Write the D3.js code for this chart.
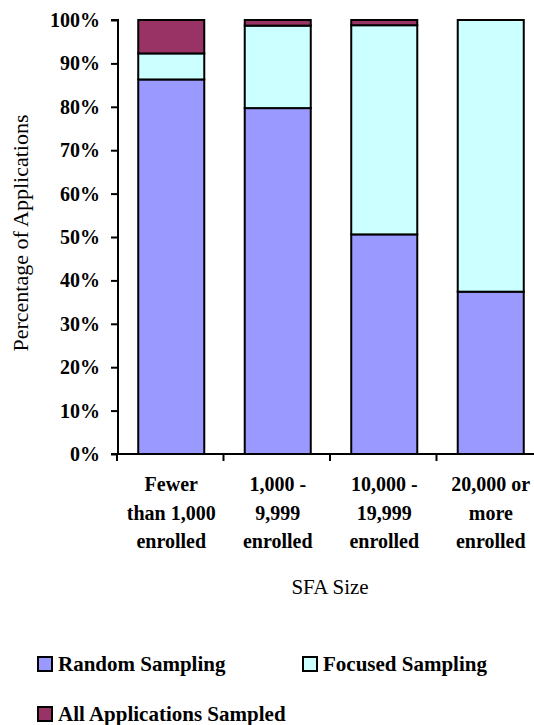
<!DOCTYPE html>
<html>
<head>
<meta charset="utf-8">
<script src="https://cdn.jsdelivr.net/npm/d3@7"></script>
<style>
  html, body { margin: 0; padding: 0; background: #fff; }
  svg { display: block; }
  svg text { font-family: 'Liberation Serif'; }
</style>
</head>
<body>
<svg id="chart" width="534" height="725" font-family="Liberation Serif"></svg>
<script>
// Share of applications by sampling method, per SFA size group
const categories = [
  ["Fewer", "than 1,000", "enrolled"],
  ["1,000 -", "9,999", "enrolled"],
  ["10,000 -", "19,999", "enrolled"],
  ["20,000 or", "more", "enrolled"]
];
const seriesNames = ["Random Sampling", "Focused Sampling", "All Applications Sampled"];
const randomSampling  = [86.3, 79.7, 50.6, 37.4];
const focusedSampling = [6.0, 19.0, 48.2, 62.6];
const allSampled      = [7.7, 1.3, 1.2, 0.0];
const yTicks = [0, 10, 20, 30, 40, 50, 60, 70, 80, 90, 100];
const colors = ["#9999FF", "#CCFFFF", "#993366"];

const svg = d3.select("#chart");
const plotLeft = 118, plotRight = 544, plotTop = 20, plotBottom = 454;

const rows = categories.map((c, i) => ({
  key: i,
  r: randomSampling[i],
  f: focusedSampling[i],
  a: allSampled[i]
}));
const stack = d3.stack().keys(["r", "f", "a"])(rows);

const x = d3.scaleBand()
  .domain(rows.map(d => d.key))
  .range([plotLeft, plotRight])
  .paddingInner(0.38)
  .paddingOuter(0.19);
const y = d3.scaleLinear().domain([0, 100]).range([plotBottom, plotTop]);

// stacked bars
svg.append("g")
  .selectAll("g")
  .data(stack)
  .join("g")
  .attr("fill", (d, i) => colors[i])
  .selectAll("rect")
  .data(d => d.filter(p => p[1] - p[0] > 0))
  .join("rect")
  .attr("x", d => x(d.data.key))
  .attr("width", x.bandwidth())
  .attr("y", d => y(d[1]))
  .attr("height", d => y(d[0]) - y(d[1]))
  .attr("stroke", "#000")
  .attr("stroke-width", 2);

// y axis
const yAxis = svg.append("g")
  .attr("transform", `translate(${plotLeft},0)`)
  .call(d3.axisLeft(y).tickValues(yTicks).tickFormat(d => d + "%").tickSize(7).tickPadding(11));
yAxis.attr("font-family", "Liberation Serif").attr("font-size", 20).attr("font-weight", "bold");
yAxis.select(".domain").attr("stroke-width", 2).attr("d", `M-7,${plotTop}H0V${plotBottom}`);
yAxis.selectAll(".tick line").attr("stroke-width", 2);
yAxis.selectAll(".tick text").attr("fill", "#000").attr("font-family", "Liberation Serif");

// x axis with ticks between categories
const edges = d3.range(categories.length + 1).map(i => plotLeft - 1 + i * x.step());
const xAxis = svg.append("g");
xAxis.append("line")
  .attr("x1", plotLeft - 7).attr("x2", plotRight + 10)
  .attr("y1", plotBottom).attr("y2", plotBottom)
  .attr("stroke", "#000").attr("stroke-width", 2);
xAxis.selectAll("line.tk")
  .data(edges)
  .join("line").attr("class", "tk")
  .attr("x1", d => d).attr("x2", d => d)
  .attr("y1", plotBottom).attr("y2", plotBottom + 7)
  .attr("stroke", "#000").attr("stroke-width", 2);

// category labels, three lines each
const catLabels = svg.append("g")
  .selectAll("text")
  .data(categories)
  .join("text")
  .attr("font-family", "Liberation Serif")
  .attr("text-anchor", "middle")
  .attr("font-size", 20)
  .attr("font-weight", "bold")
  .attr("transform", (d, i) => `translate(${x(i) + x.bandwidth() / 2},491)`);
catLabels.selectAll("tspan")
  .data(d => d)
  .join("tspan")
  .attr("x", 0)
  .attr("dy", (d, i) => i === 0 ? 0 : 28.5)
  .text(d => d);

// axis titles
svg.append("text")
  .attr("font-family", "Liberation Serif")
  .attr("transform", `translate(28,${(plotTop + plotBottom) / 2 - 4}) rotate(-90)`)
  .attr("text-anchor", "middle")
  .attr("font-size", 22)
  .text("Percentage of Applications");

svg.append("text")
  .attr("font-family", "Liberation Serif")
  .attr("x", 330).attr("y", 594)
  .attr("text-anchor", "middle")
  .attr("font-size", 21)
  .text("SFA Size");

// legend
const legendPos = [[38, 657], [303, 657], [38, 707]];
const legend = svg.append("g")
  .selectAll("g")
  .data(seriesNames)
  .join("g")
  .attr("transform", (d, i) => `translate(${legendPos[i][0]},${legendPos[i][1]})`);
legend.append("rect")
  .attr("width", 14).attr("height", 14)
  .attr("fill", (d, i) => colors[i])
  .attr("stroke", "#000").attr("stroke-width", 2);
legend.append("text")
  .attr("font-family", "Liberation Serif")
  .attr("x", 20).attr("y", 14)
  .attr("font-size", 21)
  .attr("font-weight", "bold")
  .text(d => d);
</script>
</body>
</html>
